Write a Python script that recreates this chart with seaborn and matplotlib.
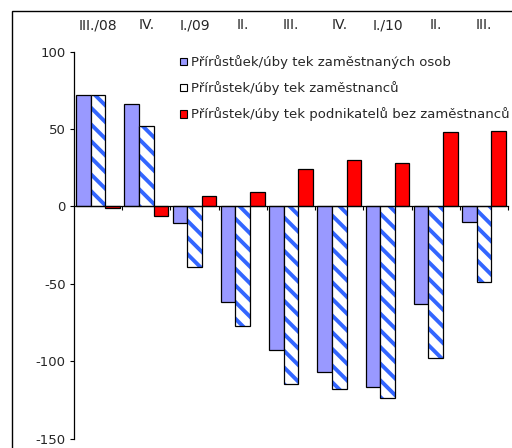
import matplotlib
matplotlib.use("Agg")
import matplotlib.pyplot as plt
from matplotlib.patches import Rectangle, Patch
import seaborn as sns
import pandas as pd

periods = ["III./08", "IV./08", "I./09", "II./09", "III./09", "IV./09", "I./10", "II./10", "III./10"]
tick_labels = ["III./08", "IV.", "I./09", "II.", "III.", "IV.", "I./10", "II.", "III."]
series_names = [
    "Přírůstůek/úby tek zaměstnaných osob",
    "Přírůstek/úby tek zaměstnanců",
    "Přírůstek/úby tek podnikatelů bez zaměstnanců",
]
employed = [72, 66, -11, -62, -93, -107, -117, -63, -10]
employees = [72, 52, -39, -77, -115, -118, -124, -98, -49]
self_employed = [-1, -6, 6.5, 9.5, 24.5, 30, 28, 48, 49]
y_ticks = [-150, -100, -50, 0, 50, 100]

colors = ["#9999FF", "#FFFFFF", "#FF0000"]
hatch_blue = "#3366FF"

sns.set_style("white")
plt.rcParams["font.family"] = ["DejaVu Sans"]
plt.rcParams["hatch.linewidth"] = 2.8

FS = 9.5

df = pd.DataFrame({
    "period": periods * 3,
    "value": employed + employees + self_employed,
    "series": [series_names[0]] * 9 + [series_names[1]] * 9 + [series_names[2]] * 9,
})

fig = plt.figure(figsize=(5.12, 4.48), dpi=100)
ax = fig.add_axes([74 / 512, 1 - 438.5 / 448, (508 - 74) / 512, (438.5 - 51.7) / 448])

sns.barplot(data=df, x="period", y="value", hue="series", order=periods,
            hue_order=series_names, palette=colors, saturation=1,
            width=0.91, gap=0, edgecolor="black", linewidth=0.9,
            legend=False, ax=ax, errorbar=None)

# hatch the second series
n = len(periods)
bars = ax.patches
for p in bars[n:2 * n]:
    p.set_hatch("\\\\")
    p.set_edgecolor(hatch_blue)
    p.set_linewidth(0)
    ax.add_patch(Rectangle(p.get_xy(), p.get_width(), p.get_height(),
                           fill=False, edgecolor="black", linewidth=0.9, zorder=p.get_zorder() + 0.1))

ax.set_xlim(-0.5, n - 0.5)
ax.set_ylim(-150, 100)
ax.set_yticks(y_ticks)
ax.set_yticklabels([str(v) for v in y_ticks], fontsize=FS)
ax.set_xticks(range(n))
ax.set_xticklabels(tick_labels, fontsize=FS)
ax.set_xlabel("")
ax.set_ylabel("")

ax.tick_params(axis="x", which="major", top=False, bottom=False, length=0,
               labeltop=True, labelbottom=False, pad=14)
ax.set_xticks([i + 0.5 for i in range(n)], minor=True)
ax.tick_params(axis="x", which="minor", bottom=True, direction="out", length=3, width=0.8, color="black")
ax.tick_params(axis="y", left=True, direction="out", length=3, width=0.8, color="black", pad=3)

for s in ["top", "right"]:
    ax.spines[s].set_visible(False)
ax.spines["bottom"].set_position(("data", 0))
ax.spines["bottom"].set_color("black")
ax.spines["bottom"].set_linewidth(0.9)
ax.spines["left"].set_color("black")
ax.spines["left"].set_linewidth(0.9)
ax.grid(False)

handles = [
    Patch(facecolor=colors[0], edgecolor="black", linewidth=0.8),
    Patch(facecolor="white", edgecolor="black", linewidth=0.8),
    Patch(facecolor=colors[2], edgecolor="black", linewidth=0.8),
]
fig.legend(handles, series_names, loc="upper left", bbox_to_anchor=(180 / 512, 1 - 55 / 448),
           frameon=False, fontsize=FS, handlelength=0.5, handleheight=0.5,
           handletextpad=0.3, labelspacing=0.93, borderpad=0, borderaxespad=0)

# outer frame (extends beyond right and bottom edges)
fig.patches.append(Rectangle((12 / 512, -0.1), 1.2, 1 - 11 / 448 + 0.1, transform=fig.transFigure,
                             fill=False, edgecolor="black", linewidth=1.0))

fig.savefig("out.png", dpi=100)
